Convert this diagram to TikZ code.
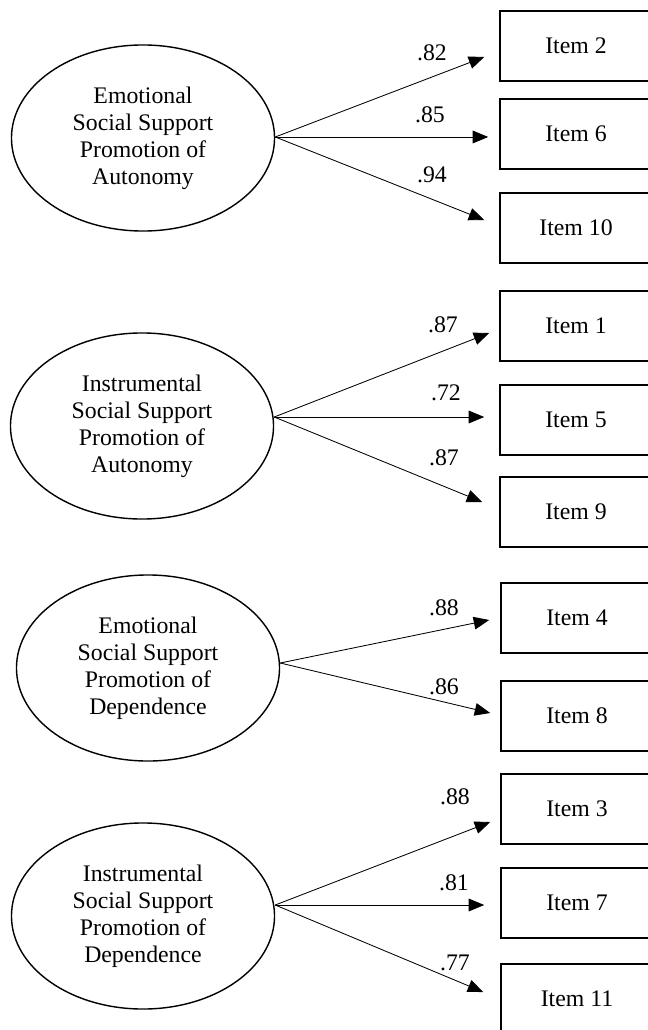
\documentclass[tikz,border=0pt]{standalone}
\usepackage{fontspec}
\setmainfont{Liberation Serif}
\usetikzlibrary{arrows.meta,shapes.geometric}
\tikzset{
  latent/.style={draw, ellipse, line width=1pt, minimum width=6.575cm, minimum height=4.65cm,
    inner sep=0pt, align=center, font=\fontsize{16.9}{19.2}\selectfont},
  item/.style={draw, rectangle, line width=1.1pt, minimum width=3.8cm, minimum height=1.75cm,
    font=\fontsize{16.9}{19.2}\selectfont},
  coef/.style={inner sep=0pt, font=\fontsize{16.9}{19.2}\selectfont},
  load/.style={-{Triangle[length=11pt,width=9pt]}, line width=0.6pt},
}
\begin{document}
\begin{tikzpicture}[x=0.025cm, y=-0.025cm]
          \useasboundingbox (0,0) rectangle (648,1030);
          \clip (0,0) rectangle (648,1030);
          % emotional, autonomy
          \node[latent] at (143,138) (f1) {Emotional\\Social Support\\Promotion of\\Autonomy};
          \node[item] at (576,46) (i2) {Item 2};
          \node[item] at (576,134) (i6) {Item 6};
          \node[item] at (576,228) (i10) {Item 10};
          \path[load] ([shift={(0,-1)}]f1.east) edge ([shift={(-15,11)}]i2.west);
          \path[load] ([shift={(0,-1)}]f1.east) edge ([shift={(-11,3)}]i6.west);
          \path[load] ([shift={(0,-1)}]f1.east) edge ([shift={(-15,-8)}]i10.west);
          \node[coef] at (432,53) (c2) {.82};
          \node[coef] at (430,115) (c6) {.85};
          \node[coef] at (432,175) (c10) {.94};
          % instrumental, autonomy
          \node[latent] at (142,426) (f2) {Instrumental\\Social Support\\Promotion of\\Autonomy};
          \node[item] at (576,326) (i1) {Item 1};
          \node[item] at (576,420) (i5) {Item 5};
          \node[item] at (576,512) (i9) {Item 9};
          \path[load] ([shift={(0,-9)}]f2.east) edge ([shift={(-10,7)}]i1.west);
          \path[load] ([shift={(0,-9)}]f2.east) edge ([shift={(-15,-3)}]i5.west);
          \path[load] ([shift={(0,-9)}]f2.east) edge ([shift={(-17,-10)}]i9.west);
          \node[coef] at (443,325) (c1) {.87};
          \node[coef] at (446,393) (c5) {.72};
          \node[coef] at (444,458) (c9) {.87};
          % emotional, dependence
          \node[latent] at (148,668) (f3) {Emotional\\Social Support\\Promotion of\\Dependence};
          \node[item] at (577,618) (i4) {Item 4};
          \node[item] at (577,716) (i8) {Item 8};
          \path[load] ([shift={(0,-5)}]f3.east) edge ([shift={(-11,2)}]i4.west);
          \path[load] ([shift={(0,-5)}]f3.east) edge ([shift={(-10,-3)}]i8.west);
          \node[coef] at (444,608) (c4) {.88};
          \node[coef] at (444,687) (c8) {.86};
          % instrumental, dependence
          \node[latent] at (143,916) (f4) {Instrumental\\Social Support\\Promotion of\\Dependence};
          \node[item] at (577,809) (i3) {Item 3};
          \node[item] at (577,903) (i7) {Item 7};
          \node[item] at (577,999) (i11) {Item 11};
          \path[load] ([shift={(0,-11)}]f4.east) edge ([shift={(-10,13)}]i3.west);
          \path[load] ([shift={(0,-11)}]f4.east) edge ([shift={(-16,2)}]i7.west);
          \path[load] ([shift={(0,-11)}]f4.east) edge ([shift={(-17,-7)}]i11.west);
          \node[coef] at (455,797) (c3) {.88};
          \node[coef] at (454,883) (c7) {.81};
          \node[coef] at (455,963) (c11) {.77};
        \end{tikzpicture}
\end{document}
